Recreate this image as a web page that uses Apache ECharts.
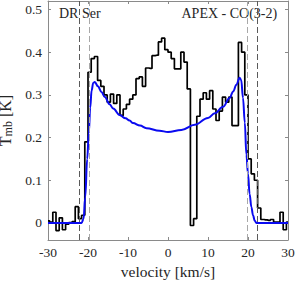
<!DOCTYPE html>
<html><head><meta charset="utf-8">
<script src="https://cdn.jsdelivr.net/npm/echarts@6/dist/echarts.min.js"></script>
<style>html,body{margin:0;padding:0;background:#fff}#c{width:300px;height:281px}</style>
</head><body><div id="c"></div>
<script>
// Observed spectrum: channel centre velocities (km/s) and brightness (K)
const velocity = [-30.0, -29.2, -28.4, -27.6, -26.8, -26.0, -25.2, -24.4, -23.6, -22.8, -22.0, -21.2, -20.4, -19.6, -18.8, -18.0, -17.2, -16.4, -15.6, -14.8, -14.0, -13.2, -12.4, -11.6, -10.8, -10.0, -9.2, -8.4, -7.6, -6.8, -6.0, -5.2, -4.4, -3.6, -2.8, -2.0, -1.2, -0.4, 0.4, 1.2, 2.0, 2.8, 3.6, 4.4, 5.2, 6.0, 6.8, 7.6, 8.4, 9.2, 10.0, 10.8, 11.6, 12.4, 13.2, 14.0, 14.8, 15.6, 16.4, 17.2, 18.0, 18.8, 19.6, 20.4, 21.2, 22.0, 22.8, 23.6, 24.4, 25.2, 26.0, 26.8, 27.6, 28.4, 29.2, 30.0];
const tmb = [0.005, 0.002, 0.025, -0.018, 0.012, -0.016, -0.003, 0.001, 0.003, 0.038, 0.010, 0.018, 0.19, 0.353, 0.385, 0.39, 0.334, 0.32, 0.30, 0.283, 0.302, 0.28, 0.30, 0.252, 0.267, 0.278, 0.29, 0.30, 0.338, 0.342, 0.32, 0.363, 0.362, 0.392, 0.393, 0.424, 0.433, 0.406, 0.40, 0.385, 0.361, 0.361, 0.40, 0.377, 0.314, -0.006, 0.01, 0.25, 0.29, 0.305, 0.29, 0.31, 0.267, 0.24, 0.262, 0.295, 0.283, 0.295, 0.228, 0.228, 0.423, 0.40, 0.30, 0.15, 0.115, 0.10, 0.035, 0.008, 0.007, 0.006, 0.008, 0.002, 0.002, 0.025, -0.016, 0.002];

// Model fit (blue)
const modelVel = [-30, -21.6, -21.1, -20.7, -20.2, -19.8, -19.45, -19.1, -18.7, -18.3, -17.5, -16.65, -15.8, -14.6, -13.7, -12.1, -10.6, -9.6, -8.75, -7.0, -5.4, -2.1, 0, 3.35, 6.7, 10.0, 11.7, 13.75, 15.4, 16.3, 17.1, 17.9, 18.3, 18.75, 19.2, 19.6, 20.0, 20.4, 20.85, 21.25, 21.7, 22.1, 30];
const modelT = [0, 0, 0.01, 0.06, 0.15, 0.21, 0.27, 0.31, 0.328, 0.33, 0.32, 0.307, 0.295, 0.278, 0.268, 0.253, 0.245, 0.24, 0.234, 0.228, 0.222, 0.216, 0.213, 0.218, 0.23, 0.246, 0.257, 0.272, 0.293, 0.308, 0.324, 0.34, 0.335, 0.293, 0.235, 0.16, 0.115, 0.068, 0.037, 0.018, 0.005, 0, 0];

// Dashed reference velocities
const dashOuter = [-22.25, 22.25];
const dashInner = [-19.7, 19.7];

// Axis ticks
const xTicks = [-30, -20, -10, 0, 10, 20, 30];
const yTicks = [0, 0.1, 0.2, 0.3, 0.4, 0.5];

const FONT = 'Liberation Serif';
const AX = '#8a8a8a';
const TXT = '#262626';

const obsData = velocity.map((v, i) => [v, tmb[i]]);
const modelData = modelVel.map((v, i) => [v, modelT[i]]);

const baseX = {
  type: 'value', min: -30, max: 30, interval: 10,
  axisLine: {show: true, onZero: false, lineStyle: {color: AX, width: 1}},
  axisTick: {show: true, inside: true, length: 3, lineStyle: {color: AX}},
  splitLine: {show: false}
};
const baseY = {
  type: 'value', min: -0.04, max: 0.52, splitNumber: 5,
  axisLine: {show: true, onZero: false, lineStyle: {color: AX, width: 1}},
  axisTick: {show: true, inside: true, length: 3, lineStyle: {color: AX}},
  splitLine: {show: false}
};
function yFmt(v) {
  const r = Math.round(v * 10) / 10;
  if (Math.abs(v - r) > 1e-6 || yTicks.indexOf(r) < 0) return '';
  return String(r);
}
function xFmt(v) { return xTicks.indexOf(v) >= 0 ? String(v) : ''; }

const markData = dashOuter.map(v => ({xAxis: v, lineStyle: {color: '#5a5a5a'}}))
  .concat(dashInner.map(v => ({xAxis: v, lineStyle: {color: '#a8a8a8'}})));

const chart = echarts.init(document.getElementById('c'), null, {renderer: 'svg'});
chart.setOption({
  animation: false,
  grid: {left: 48, right: 12, top: 1, bottom: 41, containLabel: false, outerBoundsMode: 'none'},
  xAxis: [
    Object.assign({}, baseX, {
      position: 'bottom',
      axisLabel: {fontFamily: FONT, fontSize: 13.5, color: TXT, margin: 5, formatter: xFmt},
      name: 'velocity [km/s]', nameLocation: 'middle', nameGap: 20,
      nameTextStyle: {fontFamily: FONT, fontSize: 15.5, color: TXT}
    }),
    Object.assign({}, baseX, {position: 'top', axisLabel: {show: false}})
  ],
  yAxis: [
    Object.assign({}, baseY, {
      position: 'left',
      axisLabel: {fontFamily: FONT, fontSize: 13.5, color: TXT, margin: 6, formatter: yFmt},
      name: '{t|T}{s|mb}{t| [K]}', nameLocation: 'middle', nameGap: 20,
      nameTextStyle: {
        fontFamily: FONT, fontSize: 16, color: TXT, lineHeight: 16,
        rich: {
          t: {fontFamily: FONT, fontSize: 16, lineHeight: 16, color: TXT, verticalAlign: 'top'},
          s: {fontFamily: FONT, fontSize: 12, lineHeight: 12, color: TXT, padding: [5, 0, 0, 0]}
        }
      }
    }),
    Object.assign({}, baseY, {position: 'right', axisLabel: {show: false}})
  ],
  graphic: [
    {type: 'text', x: 59, y: 13.5, style: {text: 'DR Ser', font: '14px "Liberation Serif"', fill: TXT, verticalAlign: 'middle'}},
    {type: 'text', x: 181.5, y: 13.5, style: {text: 'APEX - CO(3-2)', font: '14px "Liberation Serif"', fill: TXT, verticalAlign: 'middle'}}
  ],
  series: [
    {
      type: 'line', data: obsData, step: 'middle', showSymbol: false, symbol: 'none',
      lineStyle: {color: '#000', width: 1.7}, z: 3,
      markLine: {silent: true, symbol: ['none', 'none'], label: {show: false},
        lineStyle: {type: [6, 3], width: 1}, data: markData}
    },
    {
      type: 'line', data: modelData, smooth: 0.4, smoothMonotone: 'x', showSymbol: false, symbol: 'none',
      lineStyle: {color: '#0a0af0', width: 2}, z: 4
    }
  ]
});
</script>
</body></html>
